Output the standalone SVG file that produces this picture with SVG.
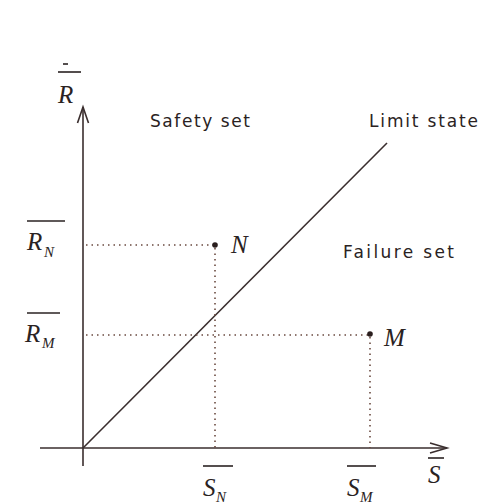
<svg xmlns="http://www.w3.org/2000/svg" width="481" height="504" viewBox="0 0 481 504">
<style>
.ax{stroke:#3a2e2e;stroke-width:1.6;fill:none}
.dot{stroke:#6a4a40;stroke-width:1.6;stroke-dasharray:1.5 4;fill:none}
.lbl{font-family:"DejaVu Sans","Liberation Sans",sans-serif;font-size:17px;fill:#2a2222}
.m{font-family:"Liberation Serif","DejaVu Serif",serif;font-style:italic;font-size:25px;fill:#2a2222}
.sub{font-family:"Liberation Serif","DejaVu Serif",serif;font-style:italic;font-size:15px;fill:#2a2222}
.bar{stroke:#2a2222;stroke-width:1.6}
</style>
<rect width="481" height="504" fill="#ffffff"/>
<g id="connectors">
<line class="ax" x1="83" y1="466" x2="83" y2="107"/>
<polyline class="ax" points="77.5,123 83,107 88.5,123"/>
<line class="ax" x1="40" y1="448" x2="447" y2="448"/>
<polyline class="ax" points="430,443 447,448 430,453"/>
<line class="ax" x1="83" y1="448" x2="387" y2="143"/>
<polyline class="dot" points="86,245 215,245 215,448"/>
<polyline class="dot" points="86,335 370,335 370,448"/>
</g>
<g id="axis-R">
<line class="bar" x1="58" y1="72" x2="81" y2="72"/>
<line class="bar" x1="63" y1="64" x2="68" y2="64"/>
<text class="m" x="58" y="103">R</text>
</g>
<g id="axis-S">
<line class="bar" x1="428" y1="458" x2="444" y2="458"/>
<text class="m" x="428" y="483">S</text>
</g>
<g id="RN">
<line class="bar" x1="27" y1="221" x2="65" y2="221"/>
<text class="m" x="27" y="250">R</text>
<text class="sub" x="44" y="257">N</text>
</g>
<g id="RM">
<line class="bar" x1="27" y1="313" x2="60" y2="313"/>
<text class="m" x="25" y="342">R</text>
<text class="sub" x="42" y="348">M</text>
</g>
<g id="SN">
<line class="bar" x1="203" y1="466" x2="233" y2="466"/>
<text class="m" x="203" y="496">S</text>
<text class="sub" x="216" y="502">N</text>
</g>
<g id="SM">
<line class="bar" x1="347" y1="466" x2="376" y2="466"/>
<text class="m" x="347" y="496">S</text>
<text class="sub" x="360" y="502">M</text>
</g>
<g id="N">
<circle cx="215" cy="245" r="2.8" fill="#2a1e1e"/>
<text class="m" x="231" y="253">N</text>
</g>
<g id="M">
<circle cx="370" cy="334" r="2.8" fill="#2a1e1e"/>
<text class="m" x="384" y="346">M</text>
</g>
<g id="safety-set"><text class="lbl" x="150" y="127" textLength="100" lengthAdjust="spacing">Safety set</text></g>
<g id="limit-state"><text class="lbl" x="369" y="127" textLength="109" lengthAdjust="spacing">Limit state</text></g>
<g id="failure-set"><text class="lbl" x="343" y="258" textLength="111" lengthAdjust="spacing">Failure set</text></g>
</svg>
